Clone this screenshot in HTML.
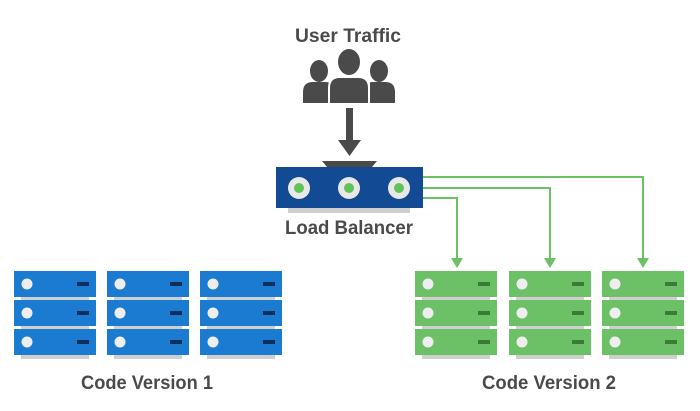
<!DOCTYPE html>
<html><head><style>
body{margin:0;width:700px;height:411px;background:#fff;overflow:hidden}
svg{display:block}
text{font-family:"Liberation Sans",sans-serif;font-weight:bold;fill:#4a4a4a;text-anchor:middle}
</style></head><body>
<svg width="700" height="411" viewBox="0 0 700 411">
<text x="348" y="42" font-size="19" textLength="106" lengthAdjust="spacingAndGlyphs">User Traffic</text>
<g fill="#4a4a4a">
<ellipse cx="319" cy="71" rx="9" ry="11"/><path d="M303 103 V92 Q303 82 313 82 H325 Q335 82 335 92 V103Z"/>
<ellipse cx="379" cy="71" rx="9" ry="11"/><path d="M363 103 V92 Q363 82 373 82 H385 Q395 82 395 92 V103Z"/>
<rect x="330" y="77" width="40" height="28" fill="#fff"/>
<ellipse cx="349" cy="62" rx="12" ry="14" stroke="#fff" stroke-width="2"/><path d="M329 104 V88 Q329 77 340 77 H358 Q369 77 369 88 V104Z" stroke="#fff" stroke-width="2"/>
<rect x="346" y="108" width="7" height="34"/><path d="M338 140 H361 L349.5 156Z"/>
<path d="M322 161 H377 L372 167 H327Z"/>
</g>
<rect x="288" y="207" width="122" height="6" fill="#cfcfcf"/>
<rect x="276" y="167" width="147" height="41" fill="#124b93"/>
<g fill="#e8e8e8"><circle cx="299" cy="188" r="11"/><circle cx="349" cy="188" r="11"/><circle cx="399" cy="188" r="11"/></g>
<g fill="#5fc35a"><circle cx="299" cy="188" r="5"/><circle cx="349" cy="188" r="5"/><circle cx="399" cy="188" r="5"/></g>
<text x="349" y="234" font-size="19" textLength="128" lengthAdjust="spacingAndGlyphs">Load Balancer</text>
<g stroke="#6cc167" stroke-width="2" fill="none">
<path d="M423 177 H643 V260"/><path d="M423 188 H550 V260"/><path d="M423 198 H457 V260"/>
</g>
<g fill="#6cc167"><path d="M637 258 H649 L643 268Z"/><path d="M544 258 H556 L550 268Z"/><path d="M451 258 H463 L457 268Z"/></g>
<defs>
<g id="ub"><rect x="7" y="26" width="68" height="4" fill="#cfcfcf"/><rect x="0" y="0" width="82" height="26" fill="#1a7bd1"/><circle cx="13" cy="13" r="5.5" fill="#eee"/><rect x="63" y="11" width="12" height="4" fill="#0d2f5c"/></g>
<g id="ug"><rect x="7" y="26" width="68" height="4" fill="#cfcfcf"/><rect x="0" y="0" width="82" height="26" fill="#6cc167"/><circle cx="13" cy="13" r="5.5" fill="#eee"/><rect x="63" y="11" width="12" height="4" fill="#3c7a38"/></g>
<g id="sb"><use href="#ub"/><use href="#ub" y="29"/><use href="#ub" y="58"/></g>
<g id="sg"><use href="#ug"/><use href="#ug" y="29"/><use href="#ug" y="58"/></g>
</defs>
<use href="#sb" x="14" y="271"/><use href="#sb" x="107" y="271"/><use href="#sb" x="200" y="271"/>
<use href="#sg" x="415" y="271"/><use href="#sg" x="509" y="271"/><use href="#sg" x="602" y="271"/>
<text x="147" y="389" font-size="19" textLength="132" lengthAdjust="spacingAndGlyphs">Code Version 1</text>
<text x="549" y="389" font-size="19" textLength="134" lengthAdjust="spacingAndGlyphs">Code Version 2</text>
</svg>
</body></html>
